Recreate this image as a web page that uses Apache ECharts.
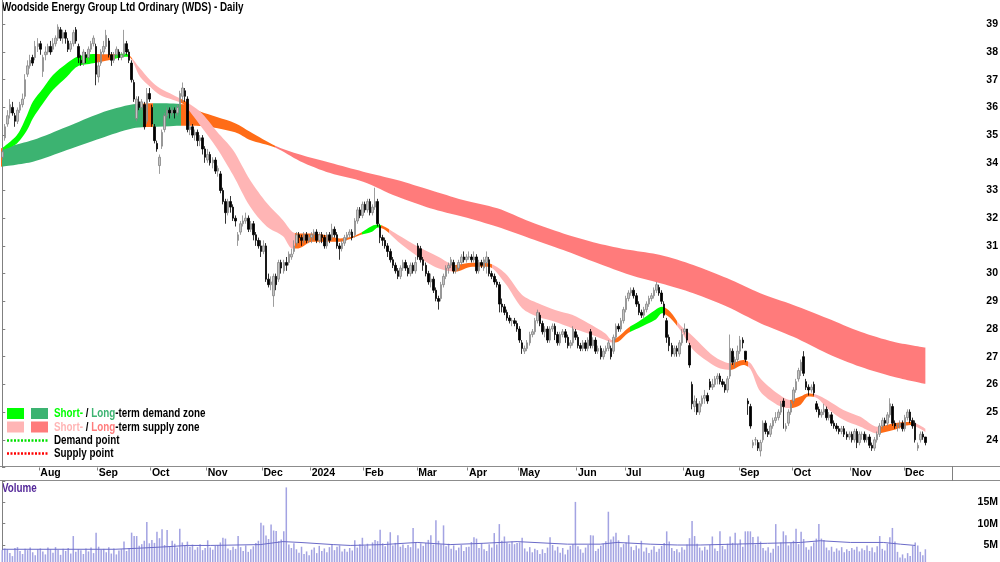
<!DOCTYPE html>
<html>
<head>
<meta charset="utf-8">
<script src="https://cdn.jsdelivr.net/npm/echarts@6/dist/echarts.min.js"></script>
<style>
html, body { margin: 0; padding: 0; background: #fff; }
#chart { width: 1000px; height: 562px; }
</style>
</head>
<body>
<div id="chart"></div>
<script>
var FONT = '"Liberation Sans", Arial, sans-serif';

// month labels and number of trading days shown for each month
var monthLabels = ['Jul','Aug','Sep','Oct','Nov','Dec','2024','Feb','Mar','Apr','May','Jun','Jul','Aug','Sep','Oct','Nov','Dec'];
var monthDays = [15,23,21,22,22,19,21,21,20,20,23,19,23,22,21,23,21,9];
var padDays = 10;

// daily candles: open, close, low, high
var candles = [
  // Jul 2023
  [34.2,34.4,34.1,34.6],[34.9,35.3,34.8,35.4],[35.4,35.7,35.3,35.9],[35.8,36.1,35.6,36.3],[36.0,35.8,35.7,36.2],
  [35.7,35.5,35.3,35.8],[35.5,35.9,35.4,36.0],[35.9,36.1,35.8,36.2],[36.1,36.3,36.0,36.5],[36.4,37.0,36.3,37.2],
  [37.2,37.5,37.1,37.7],[37.5,37.7,37.4,37.9],[37.8,37.6,37.5,37.9],[37.8,38.2,37.7,38.4],[38.2,38.3,38.0,38.5],
  // Aug
  [38.3,38.1,37.9,38.4],[37.3,37.8,37.1,37.9],[37.9,38.0,37.7,38.2],[38.0,38.2,37.9,38.3],[38.2,38.0,37.9,38.4],
  [38.1,38.3,38.0,38.5],[38.3,38.5,38.2,38.6],[38.5,38.9,38.4,39.0],[38.8,38.5,38.4,38.9],[38.5,38.7,38.3,38.8],
  [38.7,38.5,38.3,38.8],[38.4,38.1,38.0,38.5],[38.1,38.3,38.0,38.4],[38.3,38.7,38.2,38.8],[38.8,38.4,38.3,38.9],
  [38.2,37.8,37.6,38.3],[37.7,37.6,37.5,37.9],[37.6,38.0,37.5,38.1],[37.9,37.8,37.6,38.0],[37.8,38.1,37.7,38.2],
  [38.1,38.3,38.0,38.4],[38.3,38.5,38.2,38.6],[38.2,37.2,36.8,38.3],
  // Sep
  [37.1,37.5,36.9,37.7],[37.6,38.0,37.5,38.1],[38.0,38.2,37.9,38.4],[38.2,38.6,38.1,38.8],[38.4,37.9,37.8,38.5],
  [37.9,37.7,37.5,38.0],[37.7,37.9,37.6,38.0],[37.9,38.1,37.8,38.2],[38.0,37.8,37.7,38.1],[37.8,37.9,37.7,38.0],
  [37.9,38.3,37.8,38.8],[38.3,38.0,37.9,38.4],[38.0,37.7,37.6,38.1],[37.6,37.0,36.9,37.7],[36.9,36.3,36.2,37.0],
  [35.6,36.3,35.5,36.4],[36.2,36.0,35.9,36.4],[36.0,36.2,35.9,36.3],[36.1,35.3,35.2,36.2],[35.5,36.5,35.4,36.7],
  [36.5,36.3,36.2,36.7],
  // Oct
  [36.0,35.4,35.3,36.1],[35.3,34.8,34.7,35.4],[34.7,34.5,34.4,34.8],[33.9,34.2,33.6,34.3],[34.6,35.1,34.5,35.2],
  [35.2,35.7,35.1,35.8],[35.7,35.9,35.6,36.0],[35.9,35.8,35.6,36.0],[35.8,35.9,35.7,36.0],[35.9,35.8,35.6,36.0],
  [35.8,36.0,35.7,36.1],[36.1,36.5,36.0,36.6],[36.4,36.7,36.2,36.9],[36.6,36.4,36.2,36.7],[36.3,35.2,35.1,36.4],
  [35.2,35.3,35.0,35.5],[35.3,35.0,34.9,35.4],[35.0,35.1,34.8,35.2],[35.1,34.8,34.6,35.2],[34.8,34.9,34.6,35.0],
  [34.9,34.5,34.3,35.0],[34.5,34.2,34.0,34.6],
  // Nov
  [34.1,34.3,34.0,34.5],[34.3,34.0,33.9,34.4],[34.0,34.1,33.8,34.2],[34.1,33.7,33.6,34.2],[33.7,33.8,33.5,33.9],
  [33.6,33.0,32.9,33.7],[33.0,32.6,32.5,33.1],[32.6,32.2,31.8,32.7],[32.2,32.6,32.1,32.7],[32.6,32.4,32.2,32.8],
  [32.4,32.0,31.9,32.5],[32.0,31.9,31.7,32.1],[31.2,31.4,31.0,31.5],[31.5,31.8,31.4,31.9],[31.8,31.9,31.7,32.1],
  [31.9,32.0,31.8,32.2],[32.0,31.6,31.5,32.1],[31.6,31.8,31.5,31.9],[31.8,31.4,31.2,31.9],[31.4,31.2,31.0,31.5],
  [31.2,31.0,30.9,31.3],[31.0,30.8,30.6,31.2],
  // Dec
  [30.8,31.0,30.7,31.2],[31.0,29.8,29.7,31.1],[29.8,29.6,29.5,30.0],[29.6,29.7,29.4,29.9],[29.2,29.9,28.8,30.0],
  [29.9,29.6,29.4,30.0],[29.8,30.4,29.7,30.5],[30.4,30.2,30.0,30.5],[30.1,30.4,30.0,30.5],[30.4,30.3,30.1,30.6],
  [30.4,30.7,30.3,30.8],[30.6,30.7,30.5,30.9],[30.8,31.0,30.7,31.2],[31.1,31.4,31.0,31.5],[31.4,31.3,31.1,31.5],
  [31.3,31.2,31.0,31.4],[31.2,31.4,31.1,31.5],[31.4,31.2,31.1,31.5],[31.2,31.3,31.1,31.4],
  // Jan 2024
  [31.3,31.4,31.1,31.5],[31.4,31.5,31.2,31.6],[31.5,31.2,31.1,31.6],[31.2,31.4,31.1,31.5],[31.4,31.3,31.1,31.5],
  [31.3,31.0,30.9,31.4],[31.0,31.4,30.9,31.5],[31.4,31.2,31.1,31.5],[31.3,31.6,31.2,31.8],[31.6,31.4,31.3,31.7],
  [31.4,31.0,30.9,31.5],[31.0,30.9,30.5,31.1],[30.9,31.1,30.8,31.2],[31.1,31.3,31.0,31.4],[31.3,31.4,31.2,31.5],
  [31.4,31.5,31.3,31.6],[31.5,31.3,31.2,31.6],[31.4,31.9,31.3,32.0],[31.9,32.3,31.8,32.4],[32.3,32.1,32.0,32.4],
  [32.1,32.5,32.0,32.6],
  // Feb
  [32.5,32.3,32.2,32.6],[32.3,32.6,32.2,32.7],[32.6,32.2,32.1,32.7],[32.2,32.4,32.1,32.5],[32.4,32.6,32.3,33.1],
  [32.6,31.8,31.7,32.7],[31.7,31.3,31.1,31.8],[31.3,31.2,31.0,31.4],[31.2,31.0,30.9,31.3],[31.0,30.8,30.6,31.1],
  [30.8,30.5,30.4,30.9],[30.5,30.3,30.2,30.6],[30.3,30.1,30.0,30.4],[30.1,29.9,29.8,30.2],[29.9,30.2,29.8,30.3],
  [30.2,30.4,30.1,30.5],[30.4,30.2,30.1,30.5],[30.2,30.0,29.9,30.3],[30.0,30.3,29.9,30.4],[30.3,30.1,30.0,30.4],
  [30.1,30.4,30.0,30.6],
  // Mar
  [31.0,30.6,30.5,31.1],[30.9,30.5,30.4,31.0],[30.5,30.3,30.1,30.6],[30.3,30.0,29.9,30.4],[30.0,29.7,29.6,30.1],
  [29.7,29.8,29.5,30.0],[29.8,29.4,29.3,29.9],[29.4,29.1,29.0,29.5],[29.1,29.0,28.7,29.2],[29.1,29.6,29.0,29.7],
  [29.6,29.9,29.5,30.0],[29.9,30.2,29.8,30.3],[30.2,30.3,30.0,30.4],[30.3,30.5,30.2,30.6],[30.4,30.1,30.0,30.5],
  [30.1,30.2,30.0,30.3],[30.2,30.4,30.1,30.5],[30.4,30.6,30.3,30.7],[30.6,30.5,30.4,30.8],[30.5,30.6,30.4,30.7],
  // Apr
  [30.6,30.6,30.5,30.8],[30.6,30.5,30.4,30.7],[30.5,30.6,30.4,30.8],[30.6,30.1,30.0,30.7],[30.1,30.4,30.0,30.5],
  [30.4,30.3,30.2,30.5],[30.2,30.5,30.1,30.6],[30.4,30.6,30.0,30.8],[30.5,30.0,29.9,30.6],[30.0,29.9,29.8,30.1],
  [29.9,29.7,29.6,30.0],[29.7,29.6,29.5,29.8],[29.6,28.9,28.6,29.7],[28.9,28.8,28.6,29.1],[28.8,28.6,28.5,28.9],
  [28.6,28.4,28.3,28.7],[28.4,28.3,28.2,28.5],[28.3,28.3,28.1,28.4],[28.3,28.2,28.1,28.4],[28.2,28.0,27.9,28.3],
  // May
  [28.0,27.6,27.5,28.1],[27.5,27.3,27.1,27.6],[27.2,27.3,27.1,27.4],[27.3,27.5,27.2,27.6],[27.5,27.8,27.4,27.9],
  [27.8,27.9,27.7,28.0],[27.9,28.3,27.8,28.4],[28.3,28.6,28.2,28.7],[28.5,28.2,28.1,28.6],[28.2,27.9,27.8,28.3],
  [27.9,28.0,27.7,28.1],[28.0,27.6,27.5,28.1],[27.6,28.0,27.5,28.1],[28.0,28.1,27.9,28.2],[28.1,27.8,27.6,28.2],
  [27.8,27.5,27.4,27.9],[27.5,27.8,27.4,27.9],[27.8,27.9,27.7,28.0],[27.9,27.7,27.5,28.0],[27.7,27.4,27.3,27.8],
  [27.4,27.5,27.3,27.6],[27.5,28.0,27.4,28.1],[27.9,27.7,27.6,28.0],
  // Jun
  [27.7,27.4,27.3,27.8],[27.4,27.3,27.2,27.5],[27.3,27.5,27.2,27.6],[27.5,27.3,27.2,27.6],[27.3,27.6,27.2,27.7],
  [27.9,27.4,27.3,28.0],[27.4,27.6,27.3,27.7],[27.6,27.2,27.1,27.7],[27.2,27.3,27.1,27.4],[27.3,27.0,26.9,27.4],
  [27.0,27.2,26.9,27.3],[27.2,27.3,27.1,27.4],[27.3,27.5,27.2,27.6],[27.3,27.0,26.9,27.4],[27.2,27.7,27.1,27.8],
  [27.7,28.1,27.6,28.2],[28.1,28.0,27.9,28.2],[28.0,28.3,27.9,28.4],[28.3,28.7,28.2,28.8],
  // Jul
  [28.7,29.1,28.6,29.2],[29.1,29.3,29.0,29.4],[29.3,29.4,29.2,29.5],[29.4,29.2,29.1,29.5],[29.2,28.9,28.8,29.3],
  [28.9,28.6,28.5,29.0],[28.6,28.5,28.4,28.7],[28.5,28.7,28.4,28.8],[28.7,28.9,28.6,29.0],[28.9,29.1,28.8,29.2],
  [29.1,29.2,29.0,29.3],[29.2,29.4,29.1,29.5],[29.4,29.6,29.3,29.7],[29.5,29.3,29.2,29.6],[29.3,29.0,28.9,29.4],
  [28.9,28.5,28.4,29.0],[28.3,27.7,27.5,28.4],[27.7,27.4,27.2,27.8],[27.4,27.1,27.0,27.5],[27.1,27.3,27.0,27.4],
  [27.3,27.2,27.0,27.4],[27.1,27.5,27.0,27.6],[27.5,27.8,27.4,28.0],
  // Aug
  [27.9,28.0,27.8,28.2],[28.0,27.6,27.5,28.0],[27.4,26.7,26.6,27.5],[26.0,25.3,25.1,26.1],[25.2,25.4,25.0,25.6],
  [25.3,25.0,24.9,25.5],[25.0,25.3,24.9,25.4],[25.3,25.5,25.2,25.6],[25.5,25.6,25.3,25.8],[25.6,25.4,25.3,25.7],
  [26.1,25.9,25.8,26.2],[25.9,26.0,25.8,26.2],[26.0,26.2,25.9,26.3],[26.2,26.3,26.0,26.4],[26.3,26.1,26.0,26.4],
  [26.1,26.0,25.9,26.2],[26.0,25.8,25.7,26.1],[25.8,26.2,25.7,26.3],[26.3,27.3,26.2,27.8],[27.2,26.8,26.7,27.3],
  [26.8,26.9,26.6,27.0],[26.9,27.2,26.8,27.4],
  // Sep
  [27.2,27.6,27.1,27.75],[27.6,27.5,27.3,27.7],[27.2,26.9,26.8,27.2],[25.4,25.3,24.9,25.5],[25.2,24.5,24.4,25.3],
  [23.8,23.9,23.7,24.0],[24.0,24.0,23.8,24.1],[23.9,23.7,23.6,24.0],[23.6,23.9,23.4,24.0],[24.0,24.6,23.9,24.7],
  [24.6,24.3,24.2,24.7],[24.3,24.2,24.1,24.4],[24.2,24.5,24.1,24.6],[24.5,24.7,24.4,24.8],[24.7,24.8,24.6,25.0],
  [24.8,25.0,24.7,25.1],[25.0,25.3,24.9,25.4],[25.4,25.2,24.4,25.5],[24.4,24.5,24.3,24.6],[24.6,25.0,24.5,25.1],
  [25.0,25.3,24.9,25.4],
  // Oct
  [25.4,25.8,25.3,25.9],[25.8,26.1,25.7,26.2],[26.2,26.5,26.1,26.6],[26.5,26.8,26.3,26.9],[27.0,26.4,26.3,27.2],
  [26.1,25.9,25.8,26.2],[25.9,25.8,25.6,26.0],[25.8,25.9,25.7,26.0],[26.0,25.7,25.6,26.1],[25.3,25.1,25.0,25.4],
  [25.1,24.9,24.8,25.2],[24.9,25.0,24.8,25.1],[25.0,25.1,24.9,25.3],[25.1,24.8,24.7,25.2],[24.8,24.9,24.7,25.0],
  [24.9,24.6,24.5,25.0],[24.6,24.5,24.4,24.7],[24.5,24.4,24.3,24.6],[24.4,24.3,24.2,24.5],[24.3,24.4,24.2,24.5],
  [24.4,24.2,24.1,24.5],[24.2,24.1,24.0,24.3],[24.1,24.2,24.0,24.3],
  // Nov
  [24.2,24.0,23.9,24.3],[24.0,24.3,23.9,24.4],[24.3,23.9,23.7,24.4],[23.9,24.2,23.8,24.3],[24.2,24.2,24.0,24.3],
  [24.2,24.0,23.9,24.3],[24.0,24.1,23.9,24.2],[24.1,23.8,23.7,24.2],[23.8,23.7,23.6,23.9],[23.7,24.0,23.6,24.1],
  [24.0,24.2,23.9,24.3],[24.2,24.5,24.1,24.6],[24.5,24.7,24.4,24.8],[24.7,24.6,24.5,24.8],[24.6,24.9,24.5,25.0],
  [24.9,25.3,24.8,25.5],[25.2,24.6,24.5,25.3],[24.6,24.5,24.4,24.7],[24.5,24.5,24.3,24.6],[24.5,24.6,24.4,24.7],
  [24.6,24.4,24.3,24.7],
  // Dec
  [24.4,24.8,24.3,24.9],[24.8,25.0,24.7,25.1],[25.0,24.7,24.6,25.1],[24.7,24.5,24.4,24.8],[24.6,24.0,23.9,24.7],
  [23.7,23.8,23.6,23.9],[24.0,24.2,23.9,24.3],[24.2,24.1,24.0,24.3],[24.1,23.9,23.8,24.1]
];

// daily volume, millions of shares
var volume = [
  3.8,4.2,4.0,3.1,2.4,4.3,4.5,3.6,2.9,4.1,3.8,4.4,3.3,2.6,4.0,
  4.2,3.5,2.8,4.4,4.0,3.2,4.5,3.9,2.7,4.1,3.6,4.3,3.0,7.1,3.4,4.0,3.8,2.9,4.2,3.5,4.4,3.1,7.9,
  4.6,3.9,4.1,3.3,4.5,3.0,4.2,2.8,3.7,4.0,5.8,3.6,4.3,7.9,7.1,7.1,4.8,5.2,6.0,10.4,5.4,
  6.2,5.5,8.1,6.6,8.7,5.0,8.5,4.7,6.0,5.3,4.4,8.8,5.6,4.9,5.8,4.6,5.1,3.9,4.5,5.2,3.8,4.3,
  6.1,4.4,3.9,4.8,5.0,5.6,6.7,6.5,4.2,3.8,4.6,4.1,7.1,4.5,3.6,4.9,3.4,4.0,4.7,5.5,6.0,10.2,
  9.6,7.2,6.4,9.8,8.4,8.3,5.9,6.3,8.2,18.5,5.1,4.3,5.4,4.0,3.2,4.6,2.9,3.5,2.6,
  3.9,4.4,3.1,4.8,3.6,4.2,3.3,4.5,5.0,3.8,4.6,4.9,3.5,4.1,3.4,4.3,3.7,6.1,4.4,5.2,6.7,
  4.8,5.3,4.1,5.6,6.2,5.9,8.6,5.4,4.7,5.8,8.0,4.9,5.5,7.3,4.6,5.1,4.3,5.0,4.5,9.0,5.6,
  4.2,5.4,4.8,5.5,6.2,7.3,5.1,10.8,6.0,5.2,9.6,4.7,5.3,4.1,4.9,3.8,4.4,5.0,3.6,4.5,
  4.6,5.7,6.8,6.5,4.3,5.4,4.0,3.6,5.2,4.4,7.8,5.1,9.9,6.0,7.0,5.6,5.3,5.8,5.2,5.5,
  5.6,6.7,4.2,3.5,4.5,3.3,4.1,3.8,2.9,4.0,3.1,4.4,6.8,5.0,3.7,4.6,3.2,4.3,2.8,3.9,4.8,5.2,15.1,
  4.7,4.0,3.2,4.4,5.0,7.3,7.2,3.6,4.1,4.8,5.3,5.9,12.8,6.3,7.0,7.9,6.1,4.5,5.2,
  5.6,7.3,4.6,3.8,4.9,4.2,6.0,3.5,4.4,3.1,3.9,4.7,3.4,4.1,4.8,5.5,8.2,5.8,4.3,3.6,4.0,3.3,4.5,
  3.9,5.1,6.6,10.6,7.1,5.3,4.4,3.7,4.6,3.9,5.0,7.0,4.2,3.6,8.2,4.8,4.0,5.3,7.0,5.5,7.9,5.2,
  6.3,4.6,8.2,8.2,8.2,6.9,5.1,7.0,5.8,4.3,3.7,4.5,3.2,4.1,9.9,4.8,5.6,8.2,7.3,4.9,5.5,
  6.0,8.8,5.2,8.1,6.4,4.5,3.9,4.7,5.6,6.5,9.9,6.5,6.2,4.4,3.8,4.6,3.4,4.2,3.7,4.5,3.3,4.0,3.6,
  4.3,3.9,4.6,3.5,4.2,3.8,4.9,3.6,4.4,3.3,4.7,7.1,4.1,3.7,5.3,6.8,9.0,5.8,3.4,2.1,2.8,
  1.9,3.1,2.4,4.8,5.6,4.9,3.4,2.6,4.0
];

// volume average line, read at a few trading-day positions
var volAvgDay = [0, 44.5, 55.5, 65, 72.9, 82, 101.7, 110.7, 117.4, 130.5, 137.2, 150.2, 163.6, 176.6, 189.6, 203,
  222.8, 235.8, 242.5, 255.5, 266.2, 275.2, 288.3, 301.7, 314.7, 322.6, 334.4, 347.4, 354.1, 360];
var volAvg = [4.0, 4.0, 4.3, 4.6, 4.9, 4.9, 5.1, 5.8, 5.6, 5.1, 4.9, 5.1, 5.6, 5.1, 5.4, 5.8,
  5.2, 5.2, 5.6, 5.2, 5.0, 5.0, 5.2, 5.4, 5.6, 6.0, 5.6, 5.6, 5.2, 4.9];

// short-term zone edges
var shortDay = [0, 5.8, 9.8, 12.1, 16.1, 20, 25.5, 29.5, 35.8, 42.5, 48.4, 50.4, 54.3, 58.3, 62.2, 67.4, 71.3, 78, 84.7,
  91, 97.7, 104.4, 110.7, 114.3, 116.7, 122.2, 127.3, 133.2, 137.2, 141.1, 145.8, 148.2, 151, 156.1, 164, 171.9, 178.6,
  185.3, 191.6, 198.3, 205, 211.3, 218, 224.7, 231.1, 237.8, 240.5, 242.9, 246.8, 250.8, 257.5, 260.2, 263.4, 267.3,
  272.5, 279.2, 283.1, 287.1, 292.2, 295, 298.9, 305.6, 310.7, 314.7, 317.8, 321.4, 325.3, 331.7, 338.4, 345.1, 351.4, 358.1, 364];
var shortLow = [34.46, 34.70, 35.18, 35.61, 36.15, 36.63, 37.11, 37.47, 37.59, 37.71, 37.83, 37.80, 37.11, 36.75, 36.45, 36.27, 36.12, 35.36, 34.52,
  33.56, 32.42, 31.69, 31.35, 30.91, 30.91, 31.15, 31.15, 31.15, 31.25, 31.39, 31.51, 31.66, 31.57, 31.15, 30.61, 30.19, 30.07,
  30.25, 30.25, 29.65, 28.75, 28.44, 28.26, 28.03, 27.84, 27.60, 27.51, 27.54, 27.86, 28.03, 28.33, 28.57, 28.40, 27.96,
  27.24, 26.76, 26.57, 26.52, 26.70, 26.56, 25.74, 25.26, 25.14, 25.26, 25.56, 25.50, 25.14, 24.72, 24.47, 24.23, 24.35, 24.53, 24.28];
var shortHigh = [34.53, 35.00, 35.73, 36.21, 36.69, 37.17, 37.59, 37.83, 37.93, 37.92, 37.95, 37.86, 37.41, 36.99, 36.69, 36.45, 36.27, 35.85, 35.12,
  34.46, 33.38, 32.54, 31.93, 31.51, 31.45, 31.45, 31.39, 31.27, 31.32, 31.46, 31.72, 31.77, 31.68, 31.39, 30.97, 30.61, 30.31,
  30.39, 30.37, 30.01, 29.23, 28.93, 28.69, 28.51, 28.21, 27.84, 27.60, 27.72, 28.04, 28.26, 28.69, 28.80, 28.62, 28.14,
  27.72, 27.12, 26.88, 26.76, 26.88, 26.77, 26.22, 25.68, 25.44, 25.56, 25.68, 25.62, 25.44, 25.08, 24.83, 24.47, 24.59, 24.65, 24.40];

// long-term zone edges
var longDay = [-0.5, 12.1, 25.5, 38.6, 51.6, 61, 71.3, 78, 91.8, 97.7, 107.6, 117.4, 129.3, 142.3, 155.7, 168.7, 181.7,
  195.2, 208.2, 221.2, 234.6, 247.6, 259.5, 272.5, 285.9, 298.9, 311.9, 325.3, 338.4, 351.4, 364];
var longLow = [33.86, 34.04, 34.46, 34.88, 35.25, 35.30, 35.34, 35.33, 35.10, 34.82, 34.55, 34.06, 33.63, 33.32, 32.78, 32.36, 32.05,
  31.69, 31.27, 30.85, 30.38, 29.95, 29.65, 29.29, 28.80, 28.21, 27.72, 27.12, 26.64, 26.28, 26.02];
var longHigh = [34.52, 34.82, 35.30, 35.79, 36.11, 36.15, 36.11, 35.85, 35.43, 35.12, 34.62, 34.30, 34.00, 33.68, 33.38, 33.02, 32.66,
  32.36, 31.87, 31.45, 31.10, 30.85, 30.67, 30.31, 29.83, 29.29, 28.87, 28.39, 27.90, 27.54, 27.33];

// zone state from each start day: d = demand, t = turning, s = supply
var shortZones = [[-9,'t'],[0.3,'d'],[36.6,'t'],[44.5,'d'],[49.6,'t'],[51.2,'s'],[70.1,'t'],[73.7,'s'],[115.5,'t'],
  [141.9,'d'],[149.4,'t'],[152.6,'s'],[177.4,'t'],[193.2,'s'],[240.5,'t'],[247.6,'d'],[261.4,'t'],[266.2,'s'],
  [287.1,'t'],[294.2,'s'],[310.7,'t'],[320.2,'s'],[346.2,'t'],[358.9,'s']];
var longZones = [[-9,'t'],[0,'d'],[55.5,'t'],[59.5,'d'],[70.5,'t'],[107.6,'s']];

var shortColors = {d: '#00ff00', t: '#ff6c17', s: '#ffb5b5'};
var longColors = {d: '#3cb371', t: '#ff6c17', s: '#ff7b7b'};

// categories: one per trading day, then empty room on the right
var categories = [];
var monthStart = {};
var n = 0;
monthLabels.forEach(function (m, mi) {
  for (var d = 0; d < monthDays[mi]; d++) {
    if (d === 0 && mi > 0) monthStart[n] = m;
    categories.push(m + '-' + mi + '-' + d);
    n++;
  }
});
for (var p = 0; p < padDays; p++) categories.push('pad' + p);
var N = categories.length;

function isMonthStart(index) {
  return monthStart[index] !== undefined;
}

function pieces(zones, colors) {
  return zones.map(function (z, k) {
    var piece = {gte: z[0], color: colors[z[1]]};
    if (k < zones.length - 1) piece.lt = zones[k + 1][0];
    else piece.lte = 1000;
    return piece;
  });
}

// zone = lower edge line + stacked width with area; value first so the stack runs on y
function band(name, days, lo, hi) {
  return [{
    type: 'line', name: name + 'Low', xAxisIndex: 1, yAxisIndex: 0, stack: name,
    encode: {x: 1, y: 0},
    data: days.map(function (d, i) { return [lo[i], d]; }),
    smooth: 0.3, symbol: 'none', silent: true, z: 1,
    lineStyle: {opacity: 0}
  }, {
    type: 'line', name: name + 'Zone', xAxisIndex: 1, yAxisIndex: 0, stack: name,
    encode: {x: 1, y: 0},
    data: days.map(function (d, i) { return [+(hi[i] - lo[i]).toFixed(3), d]; }),
    smooth: 0.3, symbol: 'none', silent: true, z: 1,
    lineStyle: {opacity: 0},
    areaStyle: {opacity: 1}
  }];
}

var axisFont = {color: '#000', fontFamily: FONT, fontWeight: 'bold', fontSize: 10.5};
var textFont = 'bold 12px ' + FONT;

function label(x, y, text, fill, rich) {
  var style = {text: text, font: textFont, fill: fill || '#000', verticalAlign: 'middle'};
  if (rich) style.rich = rich;
  return {type: 'text', x: x, y: y, scaleX: 0.82, style: style};
}

var myChart = echarts.init(document.getElementById('chart'));

var option = {
  animation: false,
  backgroundColor: '#fff',
  grid: [
    {left: 1, right: 48, top: -3.4, height: 470.9, outerBoundsMode: 'none'},
    {left: 1, right: 48, top: 481, height: 85.35, outerBoundsMode: 'none'}
  ],
  xAxis: [
    {
      type: 'category', gridIndex: 0, data: categories, boundaryGap: true,
      axisLine: {show: false},
      axisTick: {show: true, length: 3, interval: isMonthStart, lineStyle: {color: '#808080'}},
      axisLabel: Object.assign({
        interval: isMonthStart,
        formatter: function (v, idx) { return monthStart[idx] || ''; },
        align: 'left', margin: 0
      }, axisFont),
      splitLine: {show: false}
    },
    {type: 'value', gridIndex: 0, min: -0.5, max: N - 0.5, show: false},
    {type: 'category', gridIndex: 1, data: categories, boundaryGap: true, show: false},
    {type: 'value', gridIndex: 1, min: -0.5, max: N - 0.5, show: false}
  ],
  yAxis: [
    {
      type: 'value', gridIndex: 0, position: 'right', min: 23, max: 40, interval: 1,
      axisLine: {show: true, lineStyle: {color: '#808080'}},
      axisTick: {show: true, length: 3, lineStyle: {color: '#808080'}},
      axisLabel: Object.assign({
        formatter: function (v) { return (v > 23 && v < 40) ? String(v) : ''; },
        align: 'right', margin: 46
      }, axisFont),
      splitLine: {show: false}
    },
    {
      type: 'value', gridIndex: 1, position: 'right', min: 0, max: 20, interval: 5,
      axisLine: {show: true, lineStyle: {color: '#808080'}},
      axisTick: {show: true, length: 3, lineStyle: {color: '#808080'}},
      axisLabel: Object.assign({
        formatter: function (v) { return (v > 0 && v < 20) ? v + 'M' : ''; },
        align: 'right', margin: 46
      }, axisFont),
      splitLine: {show: false}
    }
  ],
  visualMap: [
    {type: 'piecewise', show: false, seriesIndex: 1, dimension: 1, pieces: pieces(longZones, longColors)},
    {type: 'piecewise', show: false, seriesIndex: 3, dimension: 1, pieces: pieces(shortZones, shortColors)}
  ],
  series: band('long', longDay, longLow, longHigh)
    .concat(band('short', shortDay, shortLow, shortHigh))
    .concat([
      {
        type: 'candlestick', xAxisIndex: 0, yAxisIndex: 0, z: 5,
        data: candles, barWidth: 2,
        itemStyle: {color: '#c4c4c4', color0: '#000', borderColor: '#858585', borderColor0: '#000', borderWidth: 0.8}
      },
      {
        type: 'bar', xAxisIndex: 2, yAxisIndex: 1, data: volume, barWidth: '60%',
        itemStyle: {color: '#a3a3e2'}
      },
      {
        type: 'line', xAxisIndex: 3, yAxisIndex: 1, symbol: 'none', silent: true, z: 5,
        data: volAvgDay.map(function (d, i) { return [d, volAvg[i]]; }),
        lineStyle: {color: '#6a6ac8', width: 1}
      }
    ]),
  graphic: [
    label(2, 7.5, 'Woodside Energy Group Ltd Ordinary (WDS) - Daily'),
    label(2, 489, 'Volume', '#55299a'),
    {type: 'line', shape: {x1: 0, y1: 466.5, x2: 1000, y2: 466.5}, style: {stroke: '#8c8c8c', lineWidth: 1}},
    {type: 'line', shape: {x1: 0, y1: 480.5, x2: 1000, y2: 480.5}, style: {stroke: '#8c8c8c', lineWidth: 1}},
    {type: 'line', shape: {x1: 952.5, y1: 466, x2: 952.5, y2: 481}, style: {stroke: '#808080', lineWidth: 1}},
    {type: 'rect', shape: {x: 7, y: 408, width: 17, height: 11}, style: {fill: shortColors.d}},
    {type: 'rect', shape: {x: 31, y: 408, width: 17, height: 11}, style: {fill: longColors.d}},
    {type: 'rect', shape: {x: 7, y: 421.5, width: 17, height: 11}, style: {fill: shortColors.s}},
    {type: 'rect', shape: {x: 31, y: 421.5, width: 17, height: 11}, style: {fill: longColors.s}},
    label(54, 414, '{a|Short-} / {b|Long}-term demand zone', '#000',
      {a: {fill: shortColors.d, font: textFont}, b: {fill: longColors.d, font: textFont}}),
    label(54, 427.5, '{a|Short-} / {b|Long}-term supply zone', '#000',
      {a: {fill: shortColors.s, font: textFont}, b: {fill: longColors.s, font: textFont}}),
    {type: 'line', shape: {x1: 7, y1: 440.5, x2: 48, y2: 440.5}, style: {stroke: '#00e000', lineWidth: 2.5, lineDash: [2, 1.5]}},
    label(54, 441, 'Demand point'),
    {type: 'line', shape: {x1: 7, y1: 453.5, x2: 48, y2: 453.5}, style: {stroke: '#ff0000', lineWidth: 2.5, lineDash: [2, 1.5]}},
    label(54, 453.5, 'Supply point')
  ]
};

myChart.setOption(option);
</script>
</body>
</html>
